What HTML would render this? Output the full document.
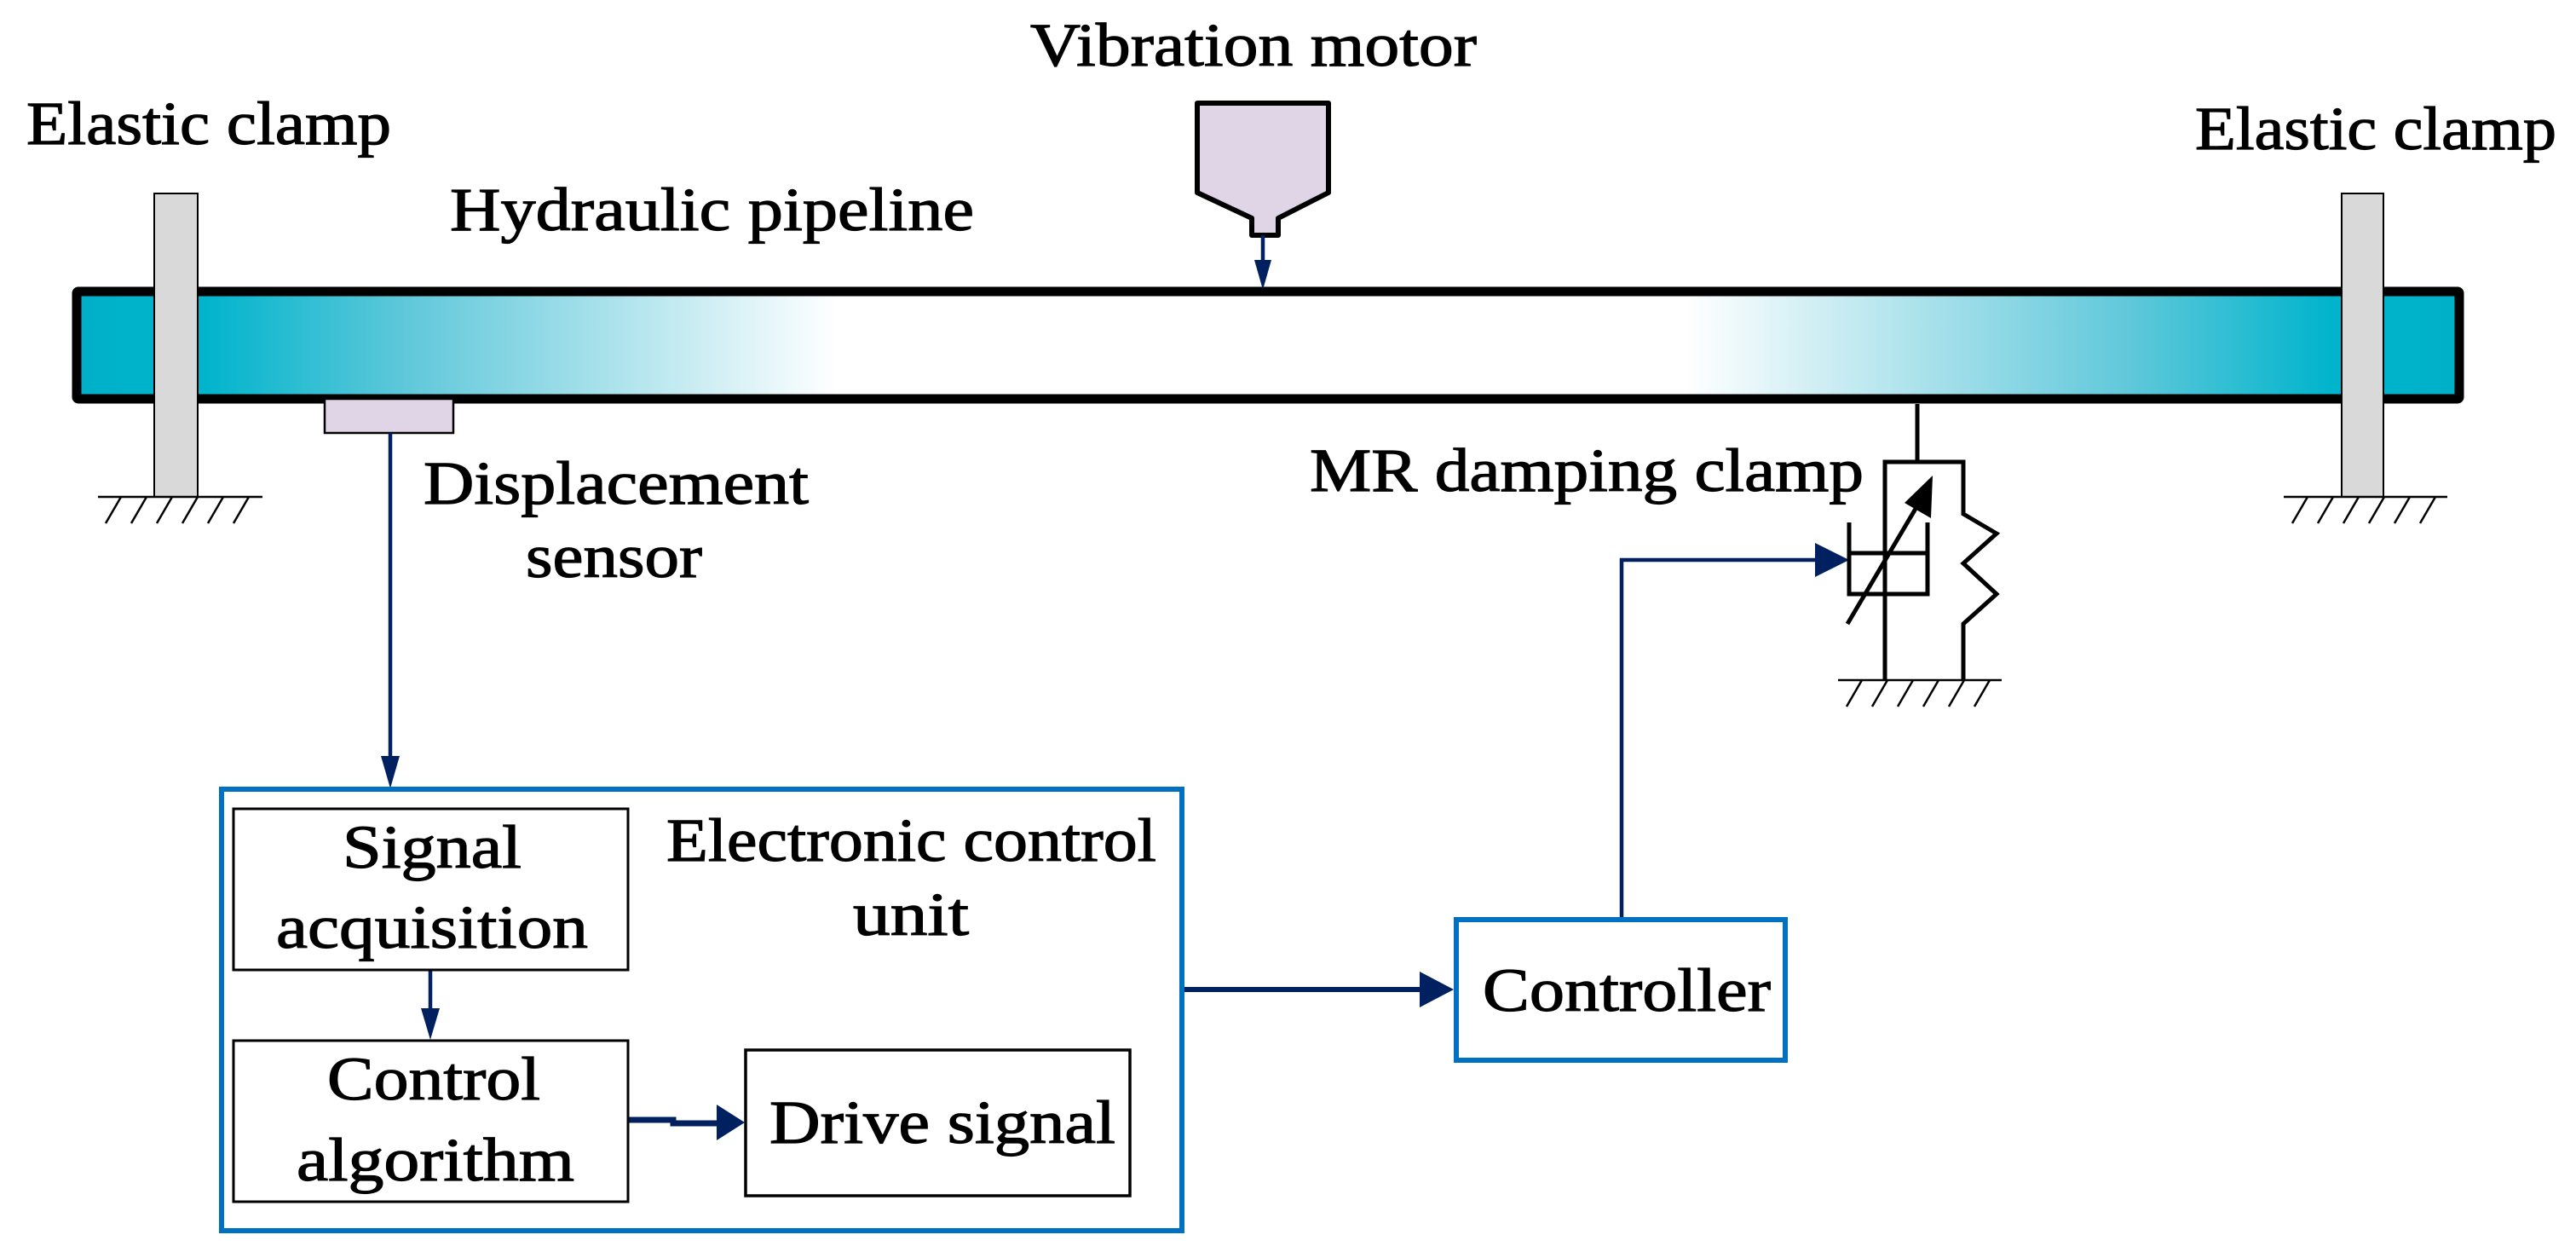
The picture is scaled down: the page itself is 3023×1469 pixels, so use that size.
<!DOCTYPE html>
<html><head><meta charset="utf-8"><style>html,body{margin:0;padding:0;background:#fff}svg{display:block}</style></head>
<body>
<svg width="3023" height="1469" viewBox="0 0 3023 1469" xmlns="http://www.w3.org/2000/svg" font-family="'Liberation Serif', serif" font-size="72" fill="#000">
<defs>
<linearGradient id="g" x1="85" x2="2891" y1="0" y2="0" gradientUnits="userSpaceOnUse">
<stop offset="0" stop-color="#00b0c8"/>
<stop offset="0.055" stop-color="#00b4cc"/>
<stop offset="0.14" stop-color="#60c8da"/>
<stop offset="0.32" stop-color="#ffffff"/>
<stop offset="0.675" stop-color="#ffffff"/>
<stop offset="0.86" stop-color="#60c8da"/>
<stop offset="0.945" stop-color="#00b4cc"/>
<stop offset="1" stop-color="#00b0c8"/>
</linearGradient>
</defs>
<rect x="90" y="342" width="2796" height="126" fill="url(#g)" stroke="#000" stroke-width="11" rx="2"/>
<rect x="181" y="227" width="51" height="356" fill="#d9d9d9" stroke="#000" stroke-width="2"/>
<rect x="2748" y="227" width="49" height="356" fill="#d9d9d9" stroke="#000" stroke-width="2"/>
<g stroke="#000" stroke-width="2.5" fill="none">
<line x1="115" y1="583" x2="308" y2="583"/>
<path d="M142 583 L124 614 M172 583 L154 614 M202 583 L184 614 M232 583 L214 614 M262 583 L244 614 M292 583 L274 614"/>
<line x1="2680" y1="583" x2="2872" y2="583"/>
<path d="M2708 583 L2690 614 M2738 583 L2720 614 M2768 583 L2750 614 M2798 583 L2780 614 M2828 583 L2810 614 M2858 583 L2840 614"/>
</g>
<rect x="381" y="468" width="151" height="40" fill="#e0d5e6" stroke="#000" stroke-width="2.5"/>
<path d="M1405 121 L1559 121 L1559 226 L1500 256 L1500 276 L1469 276 L1469 256 L1405 226 Z" fill="#e0d5e6" stroke="#000" stroke-width="6" stroke-linejoin="round"/>
<g stroke="#002060" fill="#002060">
<line x1="1482" y1="276" x2="1482" y2="308" stroke-width="4.5"/>
<path d="M1472 305 L1492 305 L1482 340 Z" stroke="none"/>
<line x1="458" y1="508" x2="458" y2="890" stroke-width="4.5"/>
<path d="M447 887 L469 887 L458 925 Z" stroke="none"/>
<line x1="505" y1="1139" x2="505" y2="1186" stroke-width="4.5"/>
<path d="M494 1183 L516 1183 L505 1220 Z" stroke="none"/>
<path d="M738 1314 L790 1314 L790 1318 L846 1318" stroke-width="7" fill="none"/>
<path d="M841 1296 L841 1338 L874 1317 Z" stroke="none"/>
<line x1="1390" y1="1161" x2="1672" y2="1161" stroke-width="6"/>
<path d="M1666 1140 L1666 1182 L1706 1161 Z" stroke="none"/>
<path d="M1903 1076 L1903 657 L2135 657" stroke-width="4.5" fill="none"/>
<path d="M2130 637 L2130 677 L2170 657 Z" stroke="none"/>
</g>
<rect x="260" y="926" width="1127" height="518" fill="none" stroke="#0070c0" stroke-width="6"/>
<rect x="1709" y="1079" width="386" height="165" fill="none" stroke="#0070c0" stroke-width="6"/>
<g fill="none" stroke="#000" stroke-width="3">
<rect x="274" y="949" width="463" height="189"/>
<rect x="274" y="1221" width="463" height="189"/>
<rect x="875" y="1232" width="451" height="171" stroke-width="3.5"/>
</g>
<g stroke="#000" stroke-width="5" fill="none">
<line x1="2250" y1="474" x2="2250" y2="542"/>
<path d="M2212 798 L2212 542 L2304 542 L2304 603 L2343 626 L2304 661 L2343 697 L2304 732 L2304 798"/>
<path d="M2170 613 L2170 697 L2262 697 L2262 613"/>
<line x1="2170" y1="649" x2="2262" y2="649"/>
<line x1="2157" y1="798" x2="2349" y2="798" stroke-width="2.5"/>
<path d="M2185 798 L2167 829 M2215 798 L2197 829 M2245 798 L2227 829 M2275 798 L2257 829 M2305 798 L2287 829 M2335 798 L2317 829" stroke-width="2.5"/>
<line x1="2168" y1="732" x2="2255" y2="585"/>
</g>
<path d="M2268 558 L2266 608 L2235 590 Z" fill="#000"/>
<g stroke="#000" stroke-width="1.2">
<text x="31" y="169" textLength="428" lengthAdjust="spacingAndGlyphs">Elastic clamp</text>
<text x="2576" y="175" textLength="424" lengthAdjust="spacingAndGlyphs">Elastic clamp</text>
<text x="1209" y="77" textLength="524" lengthAdjust="spacingAndGlyphs">Vibration motor</text>
<text x="528" y="270" textLength="615" lengthAdjust="spacingAndGlyphs">Hydraulic pipeline</text>
<text x="497" y="591" textLength="452" lengthAdjust="spacingAndGlyphs">Displacement</text>
<text x="617" y="677" textLength="207" lengthAdjust="spacingAndGlyphs">sensor</text>
<text x="1537" y="576" textLength="650" lengthAdjust="spacingAndGlyphs">MR damping clamp</text>
<text x="782" y="1010" textLength="575" lengthAdjust="spacingAndGlyphs">Electronic control</text>
<text x="1001" y="1097" textLength="136" lengthAdjust="spacingAndGlyphs">unit</text>
<text x="402" y="1018" textLength="210" lengthAdjust="spacingAndGlyphs">Signal</text>
<text x="324" y="1112" textLength="366" lengthAdjust="spacingAndGlyphs">acquisition</text>
<text x="384" y="1290" textLength="250" lengthAdjust="spacingAndGlyphs">Control</text>
<text x="348" y="1385" textLength="326" lengthAdjust="spacingAndGlyphs">algorithm</text>
<text x="903" y="1341" textLength="406" lengthAdjust="spacingAndGlyphs">Drive signal</text>
<text x="1740" y="1186" textLength="338" lengthAdjust="spacingAndGlyphs">Controller</text>
</g>
</svg>
</body></html>
